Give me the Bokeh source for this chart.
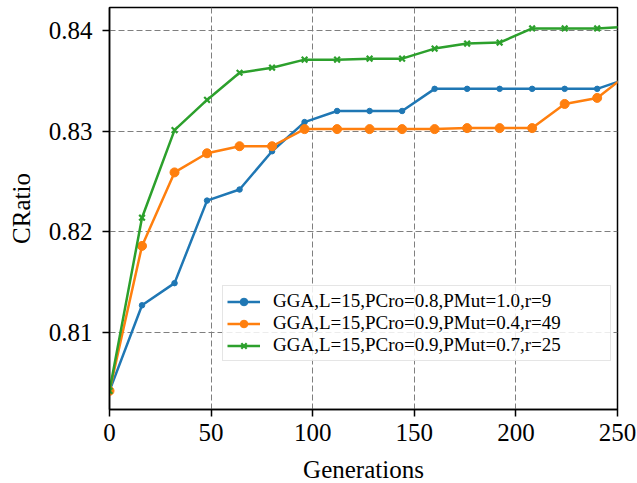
from bokeh.plotting import figure
from bokeh.models import Range1d, FixedTicker, PrintfTickFormatter, Legend, LegendItem
from bokeh.embed import file_html
from bokeh.resources import INLINE

# ---- data ----
generations = [0, 16, 32, 48, 64, 80, 96, 112, 128, 144, 160, 176, 192, 208, 224, 240, 256]
cratio_r9 = [0.8042, 0.8127, 0.8149, 0.8231, 0.8242, 0.8280, 0.8309, 0.8320, 0.8320, 0.8320,
             0.8342, 0.8342, 0.8342, 0.8342, 0.8342, 0.8342, 0.8353]
cratio_r49 = [0.8042, 0.8186, 0.8259, 0.8278, 0.8285, 0.8285, 0.8302, 0.8302, 0.8302, 0.8302,
              0.8302, 0.8303, 0.8303, 0.8303, 0.8327, 0.8333, 0.8358]
cratio_r25 = [0.8042, 0.8214, 0.8301, 0.8331, 0.8358, 0.8363, 0.8371, 0.8371, 0.8372, 0.8372,
              0.8382, 0.8387, 0.8388, 0.8402, 0.8402, 0.8402, 0.8404]
labels = ["GGA,L=15,PCro=0.8,PMut=1.0,r=9",
          "GGA,L=15,PCro=0.9,PMut=0.4,r=49",
          "GGA,L=15,PCro=0.9,PMut=0.7,r=25"]
x_ticks = [0, 50, 100, 150, 200, 250]
y_ticks = [0.81, 0.82, 0.83, 0.84]

FONT = "Liberation Serif"
colors = ["#1f77b4", "#ff7f0e", "#2ca02c"]

p = figure(frame_width=508, frame_height=402, output_backend="svg", toolbar_location=None,
           x_range=Range1d(0, 250), y_range=Range1d(0.80235, 0.84228),
           min_border_left=109, min_border_right=20, min_border_top=7, min_border_bottom=74)
p.background_fill_color = "white"
p.border_fill_color = "white"
p.outline_line_color = "black"
p.outline_line_width = 1.5

items = []
r1 = p.line(generations, cratio_r9, color=colors[0], line_width=2.5)
m1 = p.scatter(generations, cratio_r9, color=colors[0], size=5.5, marker="circle")
items.append(LegendItem(label=labels[0], renderers=[r1, m1]))
r2 = p.line(generations, cratio_r49, color=colors[1], line_width=2.5)
m2 = p.scatter(generations, cratio_r49, color=colors[1], size=9, marker="circle")
items.append(LegendItem(label=labels[1], renderers=[r2, m2]))
r3 = p.line(generations, cratio_r25, color=colors[2], line_width=2.5)
m3 = p.scatter(generations, cratio_r25, color=colors[2], size=8, marker="x", line_width=2.2)
items.append(LegendItem(label=labels[2], renderers=[r3, m3]))

legend = Legend(items=items, location=(113, 48))
legend.label_text_font = FONT
legend.label_text_font_size = "19px"
legend.label_text_color = "black"
legend.glyph_width = 33
legend.glyph_height = 19
legend.label_height = 19
legend.label_standoff = 13
legend.label_width = 333
legend.padding = 4
legend.spacing = 0
legend.margin = 0
legend.border_line_color = "#cccccc"
legend.border_line_width = 1
legend.background_fill_color = "white"
legend.background_fill_alpha = 0.85
p.add_layout(legend, "center")

# axes
p.xaxis.ticker = FixedTicker(ticks=x_ticks)
p.yaxis.ticker = FixedTicker(ticks=y_ticks)
p.xaxis.formatter = PrintfTickFormatter(format="%d")
p.yaxis.formatter = PrintfTickFormatter(format="%.2f")
p.xaxis.axis_label = "Generations"
p.yaxis.axis_label = "CRatio"
for ax in (p.xaxis, p.yaxis):
    ax.axis_label_text_font = FONT
    ax.axis_label_text_font_size = "25px"
    ax.axis_label_text_font_style = "normal"
    ax.axis_label_text_color = "black"
    ax.major_label_text_font = FONT
    ax.major_label_text_font_size = "25px"
    ax.major_label_text_color = "black"
    ax.axis_line_color = "black"
    ax.axis_line_width = 1.5
    ax.major_tick_line_color = "black"
    ax.major_tick_line_width = 1.5
    ax.major_tick_out = 7
    ax.major_tick_in = 0
    ax.minor_tick_line_color = None
p.yaxis.major_label_standoff = 10
p.xaxis.major_label_standoff = 7
p.yaxis.axis_label_standoff = 11
p.xaxis.axis_label_standoff = 12

p.xgrid.ticker = FixedTicker(ticks=x_ticks)
p.ygrid.ticker = FixedTicker(ticks=y_ticks)
for g in (p.xgrid, p.ygrid):
    g.grid_line_color = "#7f7f7f"
    g.grid_line_width = 1
    g.grid_line_dash = "6 3"

open("out.html", "w").write(file_html(p, INLINE))
